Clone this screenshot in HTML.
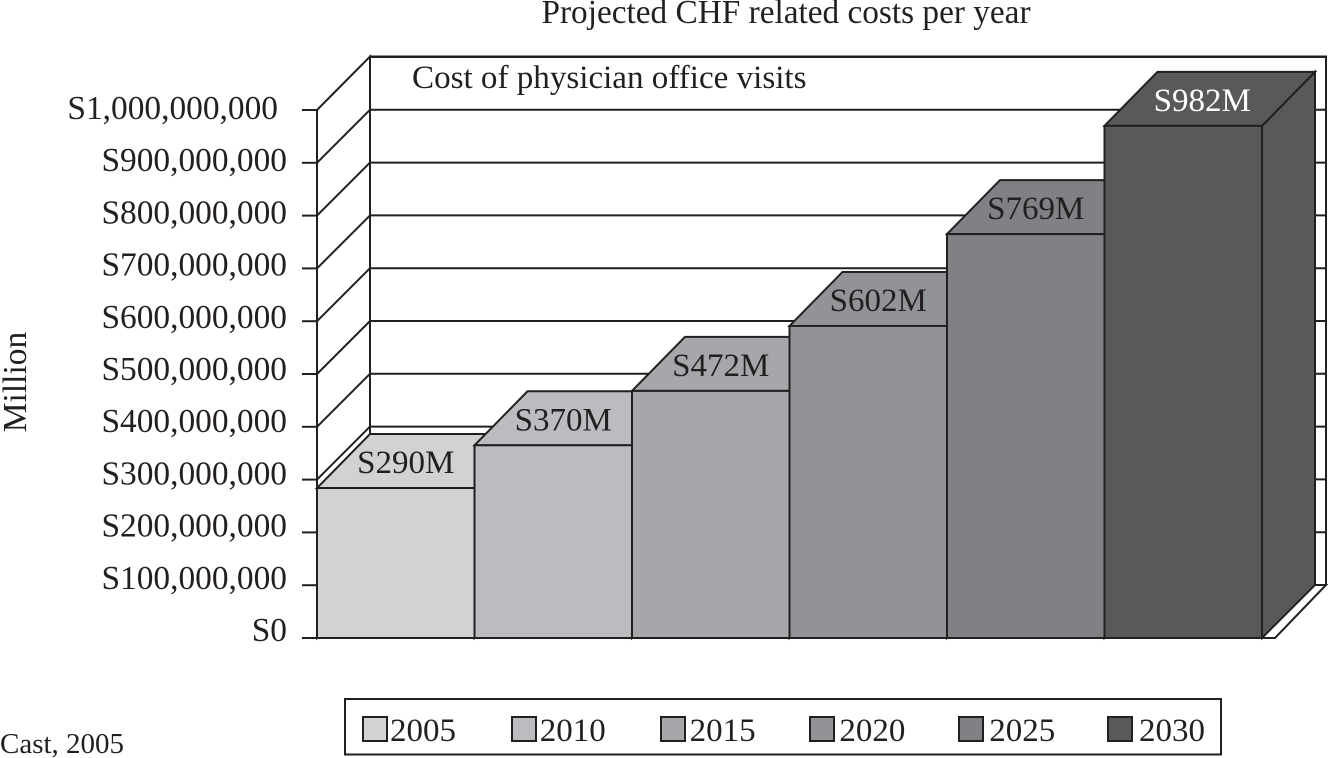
<!DOCTYPE html>
<html lang="en">
<head>
<meta charset="utf-8">
<title>Projected CHF related costs per year</title>
<style>
  html, body { margin: 0; padding: 0; background: #fff; }
  svg { display: block; }
  text { font-family: "Liberation Serif", "DejaVu Serif", serif; fill: #231f20; }
</style>
</head>
<body>
<svg id="chart" xmlns="http://www.w3.org/2000/svg" width="1328" height="758" viewBox="0 0 1328 758">
  <text x="786" y="23" font-size="33.3" text-anchor="middle">Projected CHF related costs per year</text>
  <g id="walls"></g>
  <g id="bars"></g>
  <text x="412" y="88" font-size="33.1">Cost of physician office visits</text>
  <g id="axis"></g>
  <text transform="translate(26,382) rotate(-90)" font-size="33.5" text-anchor="middle">Million</text>
  <g id="legend"></g>
  <text x="0" y="753" font-size="29">Cast, 2005</text>
</svg>
<script>
const categories = ['2005', '2010', '2015', '2020', '2025', '2030'];
const barValues = [284, 365, 468, 591, 765, 970];
const barLabels = ['S290M', 'S370M', 'S472M', 'S602M', 'S769M', 'S982M'];
const barColors = ['#d1d2d4', '#bbbcbf', '#a6a7aa', '#929396', '#808184', '#58595b'];
const tickValues = [0, 100, 200, 300, 400, 500, 600, 700, 800, 900, 1000];
const tickLabels = ['S0', 'S100,000,000', 'S200,000,000', 'S300,000,000', 'S400,000,000', 'S500,000,000', 'S600,000,000', 'S700,000,000', 'S800,000,000', 'S900,000,000', 'S1,000,000,000'];

const NS = 'http://www.w3.org/2000/svg';
const INK = '#231f20';
const LEFT = 317;
const FLOOR_RIGHT = 1275;
const BASE_Y = 638;
const BAR_STEP = 157.5;
const DEPTH_X = 53;
const DEPTH_Y = 54;
const yScale = v => BASE_Y - v * 0.528;
const xScale = i => LEFT + i * BAR_STEP;
const labelY = v => 641 - v * 0.522;

function make(tag, attrs, parent) {
  const el = document.createElementNS(NS, tag);
  Object.keys(attrs).forEach(k => el.setAttribute(k, attrs[k]));
  parent.appendChild(el);
  return el;
}
function pts(list) { return list.map(p => p.join(',')).join(' '); }

const walls = document.getElementById('walls');
const bars = document.getElementById('bars');
const axis = document.getElementById('axis');
const legend = document.getElementById('legend');
const stroke = { stroke: INK, 'stroke-width': 2, 'stroke-linejoin': 'miter' };

const backWall = make('rect', Object.assign({ x: LEFT + DEPTH_X, y: 56.5, width: 956, height: BASE_Y - 53 - 56.5, fill: '#fff' }, stroke), walls);



const sideWall = make('polygon', Object.assign({ points: pts([[LEFT, yScale(1000)], [LEFT + DEPTH_X, 56.5], [LEFT + DEPTH_X, BASE_Y - 53], [LEFT, BASE_Y]]), fill: '#fff' }, stroke), walls);



const floorPlane = make('polygon', Object.assign({ points: pts([[LEFT, BASE_Y], [FLOOR_RIGHT, BASE_Y], [1326, BASE_Y - 53], [LEFT + DEPTH_X, BASE_Y - 53]]), fill: '#fff' }, stroke), walls);



tickValues.forEach((v, i) => {
  const y = yScale(v);
  if (v > 0 && v < 1000) {
    const wallLine = make('line', Object.assign({ x1: LEFT, y1: y, x2: LEFT + DEPTH_X, y2: y - 53 }, stroke), walls);
    
    
  }
  if (v > 0) {
    const grid = make('line', Object.assign({ x1: LEFT + DEPTH_X, y1: y - 53, x2: 1326, y2: y - 53 }, stroke), walls);
    
    
  }
  const tick = make('line', Object.assign({ x1: 302, y1: y, x2: LEFT, y2: y }, stroke), axis);
  
  
  const label = make('text', { x: v === 1000 ? 278 : 287, y: labelY(v), 'font-size': 33.4, 'text-anchor': 'end' }, axis);
  label.textContent = tickLabels[i];
  
  
});

categories.forEach((c, i) => {
  const x0 = xScale(i);
  const x1 = xScale(i + 1);
  const top = yScale(barValues[i]);
  const side = make('polygon', Object.assign({ points: pts([[x1, top], [x1 + DEPTH_X, top - DEPTH_Y], [x1 + DEPTH_X, BASE_Y - 53], [x1, BASE_Y]]), fill: barColors[i] }, stroke), bars);
  
  
  const cap = make('polygon', Object.assign({ points: pts([[x0, top], [x0 + DEPTH_X, top - DEPTH_Y], [x1 + DEPTH_X, top - DEPTH_Y], [x1, top]]), fill: barColors[i] }, stroke), bars);
  
  
  const front = make('rect', Object.assign({ x: x0, y: top, width: BAR_STEP, height: BASE_Y - top, fill: barColors[i] }, stroke), bars);
  
  
});

categories.forEach((c, i) => {
  const last = i === categories.length - 1;
  const t = make('text', { x: xScale(i) + BAR_STEP / 2 + (last ? 19 : 10), y: yScale(barValues[i]) - 15, 'font-size': 33, 'text-anchor': 'middle' }, bars);
  t.textContent = barLabels[i];
  t.style.fill = last ? '#ffffff' : INK;
  
  
});

const legendBox = make('rect', Object.assign({ x: 345, y: 699, width: 876, height: 55.5, fill: '#fff' }, stroke), legend);


categories.forEach((c, i) => {
  const swatch = make('rect', Object.assign({ x: 363 + i * 149, y: 717, width: 24, height: 24, fill: barColors[i] }, stroke), legend);
  
  
  const t = make('text', { x: 390 + i * 149.8, y: 741, 'font-size': 33 }, legend);
  t.textContent = c;
  
  
});
</script>
</body>
</html>
